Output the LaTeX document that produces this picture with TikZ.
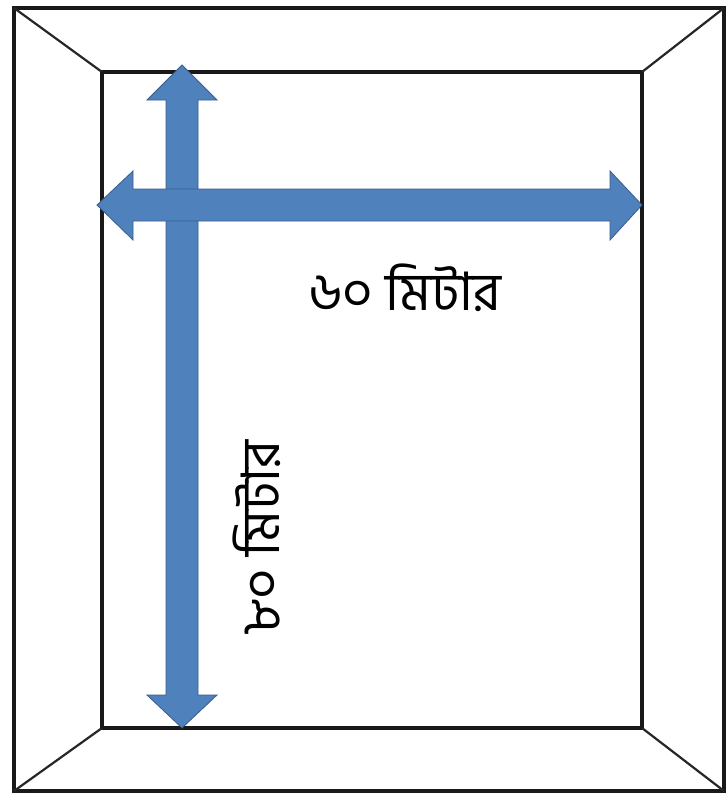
\documentclass[tikz,border=0pt]{standalone}
\usepackage{fontspec}
\newfontfamily\bengfont[Script=Bengali]{Hind Siliguri}
\begin{document}
\begin{tikzpicture}[x=1pt,y=-1pt,
  frame/.style={draw=black!90,line width=3.2pt},
  diag/.style={draw=black!85,line width=2.2pt},
  arrowshape/.style={fill={rgb,255:red,79;green,129;blue,189},draw={rgb,255:red,56;green,93;blue,138},line width=0.8pt,line join=miter},
  lbl/.style={font=\bengfont\fontsize{53}{60}\selectfont,inner sep=0pt}]
\useasboundingbox[fill=white] (0,0) rectangle (728,798);
% outer and inner frames
\draw[frame] (14,8) rectangle (724,791);
\draw[frame] (102,72) rectangle (642,728);
\coordinate (o1) at (14,8); \coordinate (o2) at (724,8);
\coordinate (o3) at (724,791); \coordinate (o4) at (14,791);
\coordinate (i1) at (102,72); \coordinate (i2) at (642,72);
\coordinate (i3) at (642,728); \coordinate (i4) at (102,728);
\draw[diag] (o1) -- (i1);
\draw[diag] (o2) -- (i2);
\draw[diag] (o3) -- (i3);
\draw[diag] (o4) -- (i4);
% vertical double arrow
\draw[arrowshape] (182,65) -- (217,100) -- (198,100) -- (198,695) -- (217,695) -- (182,728)
  -- (147,695) -- (166,695) -- (166,100) -- (147,100) -- cycle;
% horizontal double arrow
\draw[arrowshape] (97,205) -- (133,171) -- (133,189) -- (610,189) -- (610,171) -- (642,205)
  -- (610,240) -- (610,221) -- (133,221) -- (133,240) -- cycle;
\node[lbl] (w) at (405,288) {৬০ মিটার};
\node[lbl,rotate=90] (h) at (257,538) {৮০ মিটার};
\end{tikzpicture}
\end{document}
